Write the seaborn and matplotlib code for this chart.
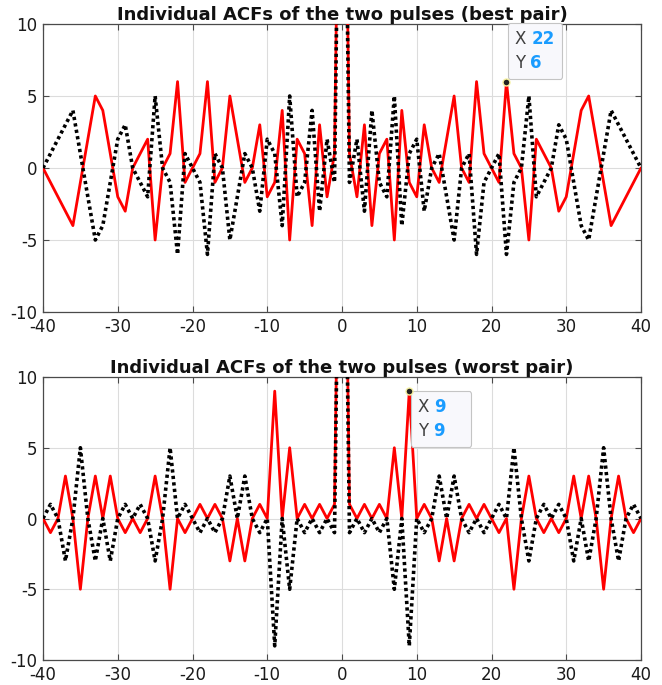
import matplotlib
matplotlib.use("Agg")
import matplotlib.pyplot as plt
import pandas as pd
import seaborn as sns
from matplotlib.offsetbox import TextArea, HPacker, VPacker, AnnotationBbox, DrawingArea

lags = list(range(-40, 41))

best_red = [0, -1, -2, -3, -4, -1, 2, 5, 4, 1, -2, -3, 0, 1, 2, -5, 0, 1, 6, -1,
            0, 1, 6, -1, 0, 5, 2, -1, 0, 3, -2, -1, 4, -5, 2, 1, -4, 3, -2, 1,
            40,
            1, -2, 3, -4, 1, 2, -5, 4, -1, -2, 3, 0, -1, 2, 5, 0, -1, 6, 1, 0,
            -1, 6, 1, 0, -5, 2, 1, 0, -3, -2, 1, 4, 5, 2, -1, -4, -3, -2, -1, 0]
best_black = [0, 1, 2, 3, 4, 1, -2, -5, -4, -1, 2, 3, 0, -1, -2, 5, 0, -1, -6, 1,
              0, -1, -6, 1, 0, -5, -2, 1, 0, -3, 2, 1, -4, 5, -2, -1, 4, -3, 2, -1,
              40,
              -1, 2, -3, 4, -1, -2, 5, -4, 1, 2, -3, 0, 1, -2, -5, 0, 1, -6, -1, 0,
              1, -6, -1, 0, 5, -2, -1, 0, 3, 2, -1, -4, -5, -2, 1, 4, 3, 2, 1, 0]
worst_red = [0, -1, 0, 3, 0, -5, 0, 3, 0, 3, 0, -1, 0, -1, 0, 3, 0, -5, 0, -1,
             0, 1, 0, 1, 0, -3, 0, -3, 0, 1, 0, 9, 0, 5, 0, 1, 0, 1, 0, 1,
             40,
             1, 0, 1, 0, 1, 0, 5, 0, 9, 0, 1, 0, -3, 0, -3, 0, 1, 0, 1, 0,
             -1, 0, -5, 0, 3, 0, -1, 0, -1, 0, 3, 0, 3, 0, -5, 0, 3, 0, -1, 0]
worst_black = [0, 1, 0, -3, 0, 5, 0, -3, 0, -3, 0, 1, 0, 1, 0, -3, 0, 5, 0, 1,
               0, -1, 0, -1, 0, 3, 0, 3, 0, -1, 0, -9, 0, -5, 0, -1, 0, -1, 0, -1,
               40,
               -1, 0, -1, 0, -1, 0, -5, 0, -9, 0, -1, 0, 3, 0, 3, 0, -1, 0, -1, 0,
               1, 0, 5, 0, -3, 0, 1, 0, 1, 0, -3, 0, -3, 0, 5, 0, -3, 0, 1, 0]

titles = ["Individual ACFs of the two pulses (best pair)",
          "Individual ACFs of the two pulses (worst pair)"]
tip_best = (22, 6)
tip_worst = (9, 9)
xticks = [-40, -30, -20, -10, 0, 10, 20, 30, 40]
yticks = [-10, -5, 0, 5, 10]

sns.set_theme(style="white")
plt.rcParams['font.family'] = ['DejaVu Sans']
plt.rcParams['axes.unicode_minus'] = False

fig = plt.figure(figsize=(6.62, 6.85), dpi=100)
ax1 = fig.add_axes([43 / 662, 1 - 312 / 685, 598 / 662, 288 / 685])
ax2 = fig.add_axes([43 / 662, 1 - 660 / 685, 598 / 662, 283 / 685])


def draw(ax, red, black, title):
    df = pd.DataFrame({"lag": lags, "red": red, "black": black})
    sns.lineplot(data=df, x="lag", y="red", ax=ax, color="#ff0000", lw=2.0,
                 legend=False, zorder=3)
    sns.lineplot(data=df, x="lag", y="black", ax=ax, color="black", lw=2.6,
                 linestyle=(0, (0.9, 0.9)), legend=False, zorder=4)
    ax.set_xlim(-40, 40)
    ax.set_ylim(-10, 10)
    ax.set_xticks(xticks)
    ax.set_yticks(yticks)
    ax.set_xlabel("")
    ax.set_ylabel("")
    ax.grid(True, color="#dcdcdc", lw=0.8)
    ax.set_axisbelow(True)
    for s in ax.spines.values():
        s.set_color("#4a4a4a")
        s.set_linewidth(0.9)
        s.set_visible(True)
    ax.tick_params(direction="in", length=4, width=0.8, color="#4a4a4a",
                   labelsize=12, labelcolor="#1a1a1a", top=True, right=True,
                   bottom=True, left=True, pad=4)
    ax.set_title(title, fontsize=13, fontweight="bold", pad=3, color="#111111")


def datatip(ax, x, y, align, off, extra):
    ax.plot([x], [y], "o", ms=5, mfc="#222222", mec="#f5f0a0", mew=1.0, zorder=8,
            clip_on=False)
    rows = []
    for lab, val in (("X", x), ("Y", y)):
        rows.append(HPacker(children=[
            TextArea(lab, textprops=dict(color="#404040", size=12)),
            TextArea(str(val), textprops=dict(color="#1a9cff", size=12,
                                              weight="bold"))],
            pad=0, sep=4, align="baseline"))
    col = VPacker(children=rows, pad=0, sep=4, align="left")
    box = HPacker(children=[col, DrawingArea(extra, 1)], pad=0, sep=0,
                  align="center")
    ab = AnnotationBbox(box, (x, y), xybox=off, xycoords="data",
                        boxcoords="offset points", box_alignment=align,
                        frameon=True, pad=0.45,
                        bboxprops=dict(boxstyle="round,pad=0.45,rounding_size=0.15",
                                       fc="#f8f8fc", ec="#c4c4c4", lw=0.8),
                        zorder=7)
    ax.add_artist(ab)


draw(ax1, best_red, best_black, titles[0])
draw(ax2, worst_red, worst_black, titles[1])
datatip(ax1, tip_best[0], tip_best[1], (0, 0), (6, 7), 0)
datatip(ax2, tip_worst[0], tip_worst[1], (0, 1), (6, -5), 13)

fig.savefig("out.png", dpi=100, facecolor="white")
